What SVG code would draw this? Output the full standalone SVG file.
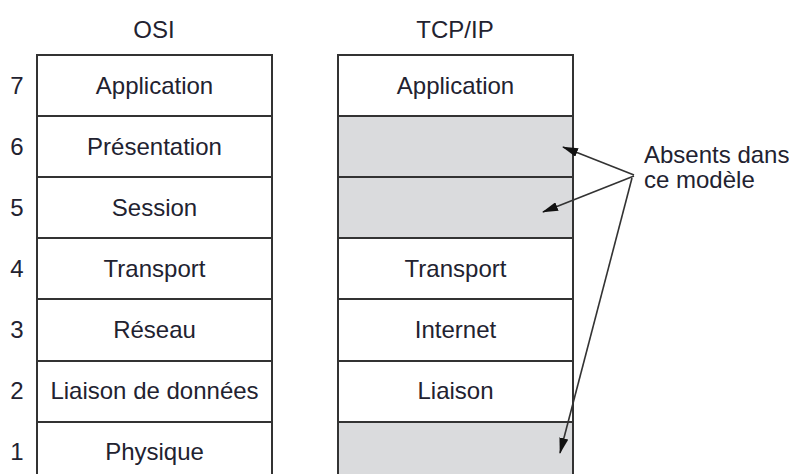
<svg xmlns="http://www.w3.org/2000/svg" width="789" height="474" viewBox="0 0 789 474">
  <style>
    text { font-family: "Liberation Sans", Arial, sans-serif; font-size: 24px; fill: #222230; }
    .lbl { text-anchor: middle; }
    .num { text-anchor: middle; }
    .cell { fill: #ffffff; stroke: #333333; stroke-width: 2; }
    .gray { fill: #dadbdd; stroke: #333333; stroke-width: 2; }
    .conn { stroke: #333333; stroke-width: 1.6; fill: none; marker-end: url(#ah); }
  </style>
  <defs>
    <marker id="ah" viewBox="0 0 16 9" refX="15" refY="4.5" markerWidth="16" markerHeight="9" markerUnits="userSpaceOnUse" orient="auto">
      <path d="M0,0 L16,4.5 L0,9 Z" fill="#111111"/>
    </marker>
  </defs>

  <g id="titles">
    <text class="lbl" x="154" y="38">OSI</text>
    <text class="lbl" x="455" y="38">TCP/IP</text>
  </g>

  <g id="layer-numbers">
    <text class="num" x="17" y="94">7</text>
    <text class="num" x="17" y="155">6</text>
    <text class="num" x="17" y="216">5</text>
    <text class="num" x="17" y="277">4</text>
    <text class="num" x="17" y="338">3</text>
    <text class="num" x="17" y="399">2</text>
    <text class="num" x="17" y="460">1</text>
  </g>

  <g id="osi-7"><rect class="cell" x="37" y="55" width="235" height="61"/><text class="lbl" x="154.5" y="94">Application</text></g>
  <g id="osi-6"><rect class="cell" x="37" y="116" width="235" height="61"/><text class="lbl" x="154.5" y="155">Présentation</text></g>
  <g id="osi-5"><rect class="cell" x="37" y="177" width="235" height="61"/><text class="lbl" x="154.5" y="216">Session</text></g>
  <g id="osi-4"><rect class="cell" x="37" y="238" width="235" height="61"/><text class="lbl" x="154.5" y="277">Transport</text></g>
  <g id="osi-3"><rect class="cell" x="37" y="299" width="235" height="62"/><text class="lbl" x="154.5" y="338">Réseau</text></g>
  <g id="osi-2"><rect class="cell" x="37" y="361" width="235" height="61"/><text class="lbl" x="154.5" y="399">Liaison de données</text></g>
  <g id="osi-1"><rect class="cell" x="37" y="422" width="235" height="62"/><text class="lbl" x="154.5" y="460">Physique</text></g>

  <g id="tcp-7"><rect class="cell" x="338" y="55" width="235" height="61"/><text class="lbl" x="455.5" y="94">Application</text></g>
  <g id="tcp-6"><rect class="gray" x="338" y="116" width="235" height="61"/></g>
  <g id="tcp-5"><rect class="gray" x="338" y="177" width="235" height="61"/></g>
  <g id="tcp-4"><rect class="cell" x="338" y="238" width="235" height="61"/><text class="lbl" x="455.5" y="277">Transport</text></g>
  <g id="tcp-3"><rect class="cell" x="338" y="299" width="235" height="62"/><text class="lbl" x="455.5" y="338">Internet</text></g>
  <g id="tcp-2"><rect class="cell" x="338" y="361" width="235" height="61"/><text class="lbl" x="455.5" y="399">Liaison</text></g>
  <g id="tcp-1"><rect class="gray" x="338" y="422" width="235" height="62"/></g>

  <g id="note">
    <text x="644" y="163">Absents dans</text>
    <text x="644" y="188">ce modèle</text>
  </g>

  <g id="connectors">
    <line class="conn" x1="634" y1="175" x2="563" y2="147"/>
    <line class="conn" x1="634" y1="176" x2="543" y2="212"/>
    <line class="conn" x1="632" y1="178" x2="560" y2="453"/>
  </g>
</svg>
